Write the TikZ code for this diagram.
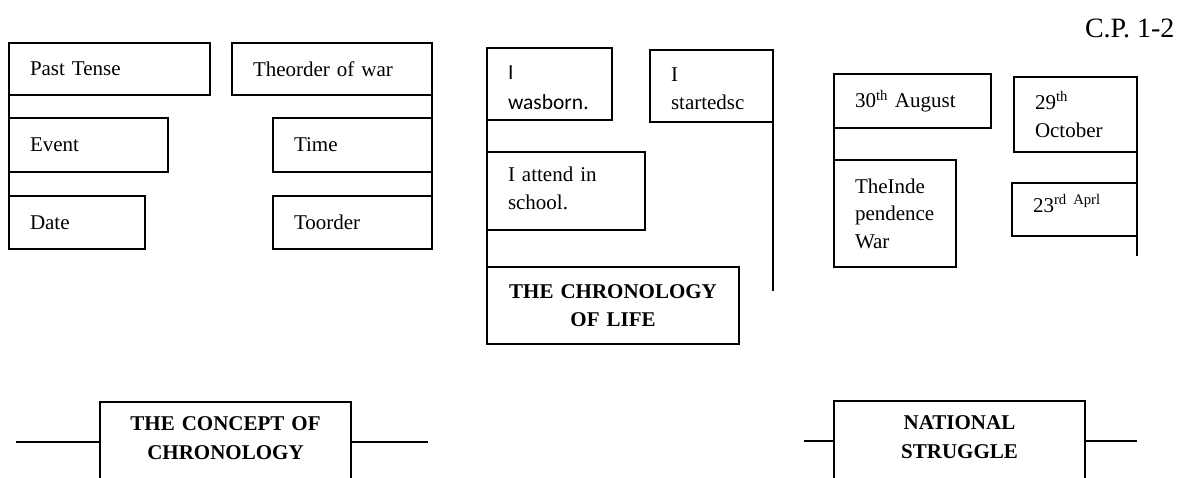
\documentclass[tikz,border=0pt]{standalone}
\usepackage{fontspec}
\setmainfont{Liberation Serif}
\newfontfamily\calib{Carlito}
\begin{document}
\begin{tikzpicture}[x=1pt,y=-1pt,line width=1.8pt,
  every node/.style={outer sep=0pt},
  tnr/.style={font=\fontsize{21}{27.5}\selectfont},
  box/.style={draw,anchor=north west,align=left,inner xsep=21pt,inner ysep=0pt,tnr},
  ttl/.style={draw,anchor=north west,align=center,inner xsep=0pt,inner ysep=0pt,font=\fontsize{21}{28.5}\selectfont\bfseries},
  opentl/.style={draw,anchor=north west,align=center,inner xsep=0pt,inner ysep=7pt,text height=21pt,text depth=110pt,font=\fontsize{21}{29}\selectfont\bfseries},
  conn/.style={line width=1.8pt}]
\useasboundingbox (0,0) rectangle (1189,478);
\clip (0,0) rectangle (1189,478);

% header
\node[anchor=west,inner sep=0pt,font=\fontsize{28}{32}\selectfont] (cp) at (1085,28) {C.P. 1-2};

% left cluster
\node[box,text width=159pt,minimum width=201pt,minimum height=52pt] (a1) at (9,43) {Past Tense};
\node[box,text width=158pt,minimum width=200pt,minimum height=52pt] (a2) at (232,43) {Theorder of war};
\node[box,text width=117pt,minimum width=159pt,minimum height=54pt] (a3) at (9,118) {Event};
\node[box,text width=117pt,minimum width=159pt,minimum height=54pt] (a4) at (273,118) {Time};
\node[box,text width=94pt,minimum width=136pt,minimum height=53pt] (a5) at (9,196) {Date};
\node[box,text width=117pt,minimum width=159pt,minimum height=53pt] (a6) at (273,196) {Toorder};
\draw[conn] (a1.south west) -- (a3.north west);
\draw[conn] (a3.south west) -- (a5.north west);
\draw[conn] (a2.north east) -- (a6.south east);

% middle cluster
\node[box,text width=83pt,minimum width=125pt,minimum height=72pt,text height=15pt,text depth=23pt,font=\calib\fontsize{21.5}{30}\selectfont] (b1) at (487,48) {I\\wasborn.};
\node[box,text width=81pt,minimum width=123pt,minimum height=72pt,text height=15pt,text depth=23pt] (b2) at (650,50) {I\\startedsc};
\node[box,text width=116pt,minimum width=158pt,minimum height=78pt,text height=15pt,text depth=33pt] (b3) at (487,152) {I attend in\\school.};
\node[ttl,text width=252pt,minimum height=77pt] (b4) at (487,267) {THE CHRONOLOGY\\OF LIFE};
\coordinate (b2end) at (773,291);
\draw[conn] (b1.south west) -- (b3.north west);
\draw[conn] (b3.south west) -- (b4.north west);
\draw[conn] (b2.north east) -- (b2end);

% right cluster
\node[box,text width=115pt,minimum width=157pt,minimum height=54pt] (c1) at (834,74) {30\textsuperscript{th} August};
\node[box,text width=81pt,minimum width=123pt,minimum height=75pt] (c2) at (1014,77) {29\textsuperscript{th}\\October};
\node[box,text width=80pt,minimum width=122pt,minimum height=107pt] (c3) at (834,160) {TheInde\\pendence\\War};
\node[box,text width=83pt,minimum width=125pt,minimum height=53pt,text height=15pt,text depth=9.5pt] (c4) at (1012,183) {23\textsuperscript{rd Aprl}};
\coordinate (c2end) at (1137,256);
\draw[conn] (c1.south west) -- (c3.north west);
\draw[conn] (c2.north east) -- (c2end);

% bottom titles
\node[opentl,text width=251pt] (d1) at (100,402) {THE CONCEPT OF\\CHRONOLOGY};
\coordinate (d1l) at (16,442);
\coordinate (d1r) at (428,442);
\draw[conn] (d1l) -- (d1l -| d1.west);
\draw[conn] (d1.east |- d1r) -- (d1r);

\node[opentl,text width=251pt] (d2) at (834,401) {NATIONAL\\STRUGGLE};
\coordinate (d2l) at (804,441);
\coordinate (d2r) at (1137,441);
\draw[conn] (d2l) -- (d2l -| d2.west);
\draw[conn] (d2.east |- d2r) -- (d2r);
\end{tikzpicture}
\end{document}
